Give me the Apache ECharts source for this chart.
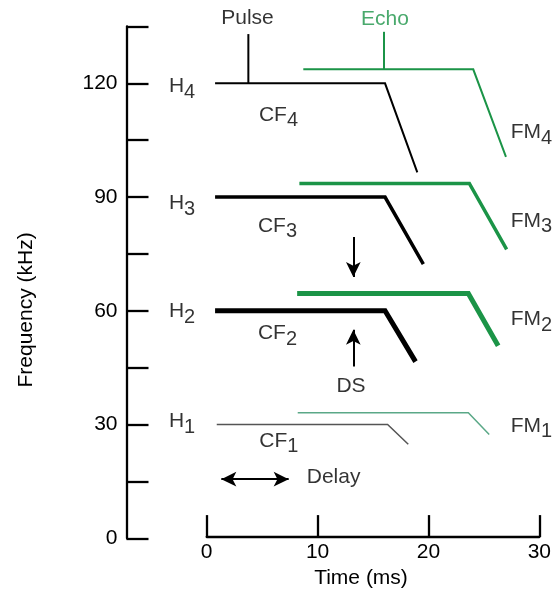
<!DOCTYPE html>
<html><head><meta charset="utf-8">
<script src="https://cdn.jsdelivr.net/npm/echarts@6/dist/echarts.min.js"></script>
<style>html,body{margin:0;padding:0;background:#fff}#c{width:554px;height:594px}</style>
</head><body><div id="c"></div>
<script>
// ---------- data (time in ms, frequency in kHz) ----------
const timeTicks = [0, 10, 20, 30];
const freqTickLabels = [0, 30, 60, 90, 120];
const harmonicIndex = ['1', '2', '3', '4'];

const pulseH1 = [[0.9, 30], [16.2, 30], [18.05, 24.8]];
const pulseH2 = [[0.75, 60], [15.97, 60], [18.7, 46.6]];
const pulseH3 = [[0.75, 90], [15.97, 90], [19.4, 72.3]];
const pulseH4 = [[0.75, 120], [15.97, 120], [18.86, 96.5]];

const echoFM1 = [[8.15, 33.1], [23.43, 33.1], [25.3, 27.4]];
const echoFM2 = [[8.1, 64.6], [23.43, 64.6], [26.1, 50.8]];
const echoFM3 = [[8.3, 93.6], [23.52, 93.6], [26.86, 76.2]];
const echoFM4 = [[8.65, 123.7], [23.87, 123.7], [26.8, 100.6]];

const pulseMarker = [[3.73, 120], [3.73, 133.0]];
const echoMarker = [[15.88, 123.7], [15.88, 133.6]];

// annotation arrows (tail -> head)
const dsArrowDown = [[13.13, 79.5], [13.13, 68.9]];
const dsArrowUp = [[13.13, 45.3], [13.13, 55.0]];
const delayArrow = [[1.31, 15.6], [7.34, 15.6]];

// ---------- annotation layout (separate from data) ----------
const hLabelAt = [[-3.38, 30.9], [-3.38, 59.9], [-3.38, 88.3], [-3.38, 119.3]];
const cfLabelAt = [[4.71, 25.7], [4.59, 54.1], [4.59, 82.4], [4.68, 111.7]];
const fmLabelAt = [[27.22, 29.7], [27.22, 57.8], [27.22, 83.7], [27.22, 107.0]];
const pulseLabelAt = [3.65, 137.2];
const echoLabelAt = [15.97, 137.0];
const dsLabelAt = [12.92, 40.0];
const delayLabelAt = [8.96, 16.2];

// ---------- styles ----------
const FONT = '"Liberation Sans", Arial, Helvetica, sans-serif';
const BLACK = '#000000';
const GREEN = '#1b9447';
const pulseColors = ['#555555', BLACK, BLACK, BLACK];
const echoColors = ['#5aa887', GREEN, GREEN, GREEN];
const widths = [1.5, 5, 3.5, 2];

const pulses = [pulseH1, pulseH2, pulseH3, pulseH4];
const echoes = [echoFM1, echoFM2, echoFM3, echoFM4];

function lineSeries(data, color, width) {
  return {
    type: 'line', xAxisIndex: 0, yAxisIndex: 0, data: data,
    symbol: 'none', showSymbol: false, silent: true, clip: false, z: 3,
    lineStyle: { color: color, width: width, cap: 'butt', join: 'miter' }
  };
}

const rich = {
  m: { fontSize: 21, fontFamily: FONT, color: BLACK, lineHeight: 21, padding: [0, 0, 6, 0] },
  s: { fontSize: 20, fontFamily: FONT, color: BLACK, lineHeight: 21, padding: [6, 0, 0, 0] }
};

function subLabelSeries(main, positions) {
  return {
    type: 'scatter', xAxisIndex: 0, yAxisIndex: 0, symbolSize: 0, clip: false, silent: true,
    data: positions.map((p, i) => ({ name: '{m|' + main + '}{s|' + harmonicIndex[i] + '}', value: p })),
    label: { show: true, position: 'right', distance: 0, offset: [0, 3], formatter: '{b}', color: BLACK, rich: rich }
  };
}

function textSeries(items, pos) {
  return {
    type: 'scatter', xAxisIndex: 0, yAxisIndex: 0, symbolSize: 0, clip: false, silent: true,
    data: items,
    label: { show: true, position: pos, distance: 0, formatter: '{b}', fontSize: 21, fontFamily: FONT, color: BLACK }
  };
}

const series = [];
pulses.forEach((d, i) => series.push(lineSeries(d, pulseColors[i], widths[i])));
echoes.forEach((d, i) => series.push(lineSeries(d, echoColors[i], widths[i])));
series.push(lineSeries(pulseMarker, BLACK, 2));
series.push(lineSeries(echoMarker, GREEN, 2));

series.push(subLabelSeries('H', hLabelAt));
series.push(subLabelSeries('CF', cfLabelAt));
series.push(subLabelSeries('FM', fmLabelAt));

series.push(textSeries([
  { name: 'Pulse', value: pulseLabelAt },
  { name: 'Echo', value: echoLabelAt, label: { color: GREEN } },
  { name: 'DS', value: dsLabelAt }
], 'inside'));
series.push(textSeries([{ name: 'Delay', value: delayLabelAt }], 'right'));

series.push({
  type: 'line', xAxisIndex: 0, yAxisIndex: 0, data: [], silent: true,
  markLine: {
    silent: true, animation: false,
    symbol: ['none', 'arrow'], symbolSize: [11, 15],
    label: { show: false },
    lineStyle: { color: BLACK, width: 2, type: 'solid' },
    data: [
      [{ coord: dsArrowDown[0] }, { coord: dsArrowDown[1] }],
      [{ coord: dsArrowUp[0] }, { coord: dsArrowUp[1] }],
      [{ coord: delayArrow[0], symbol: 'arrow' }, { coord: delayArrow[1] }]
    ]
  }
});

const GRID_TOP = 26.5, GRID_BOTTOM = 55.7, GRID_RIGHT = 12.3;
const chart = echarts.init(document.getElementById('c'), null, { renderer: 'canvas' });
chart.setOption({
  animation: false,
  backgroundColor: '#ffffff',
  grid: [
    { left: 126.5, right: GRID_RIGHT, top: GRID_TOP, bottom: GRID_BOTTOM, containLabel: false },
    { left: 206.7, right: GRID_RIGHT, top: GRID_TOP, bottom: GRID_BOTTOM, containLabel: false }
  ],
  xAxis: [
    { gridIndex: 0, type: 'value', min: -7.182, max: 30, show: false },
    {
      gridIndex: 1, type: 'value', min: timeTicks[0], max: timeTicks[timeTicks.length - 1], interval: 10,
      name: 'Time (ms)', nameLocation: 'middle', nameGap: 29,
      nameTextStyle: { fontSize: 21, fontFamily: FONT, color: BLACK, padding: [0, 24, 0, 0] },
      axisLine: { show: true, onZero: false, lineStyle: { color: BLACK, width: 2.3 } },
      axisTick: { show: true, inside: true, length: 22, lineStyle: { color: BLACK, width: 2.3 } },
      axisLabel: { margin: 5, fontSize: 21, fontFamily: FONT, color: BLACK },
      splitLine: { show: false }
    }
  ],
  yAxis: [
    {
      gridIndex: 0, type: 'value', min: 0, max: 135, interval: 15,
      name: 'Frequency (kHz)', nameLocation: 'middle', nameGap: 90,
      nameTextStyle: { fontSize: 21, fontFamily: FONT, color: BLACK, padding: [0, 55, 0, 0] },
      axisLine: { show: true, onZero: false, lineStyle: { color: BLACK, width: 2.3 } },
      axisTick: { show: true, inside: true, length: 22, lineStyle: { color: BLACK, width: 2.3 } },
      axisLabel: {
        margin: 9, fontSize: 21, fontFamily: FONT, color: BLACK,
        formatter: v => (freqTickLabels.indexOf(v) >= 0 ? String(v) : '')
      },
      splitLine: { show: false }
    },
    { gridIndex: 1, type: 'value', min: 0, max: 135, show: false }
  ],
  series: series
});
</script></body></html>
